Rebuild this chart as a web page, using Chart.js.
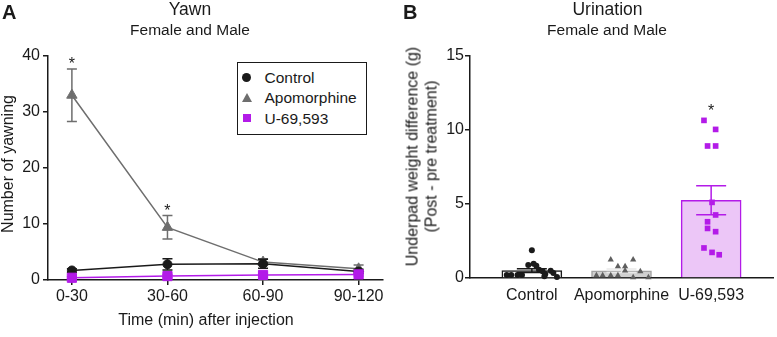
<!DOCTYPE html>
<html>
<head>
<meta charset="utf-8">
<title>Yawn / Urination</title>
<script src="https://cdn.jsdelivr.net/npm/chart.js@4.4.1/dist/chart.umd.min.js"></script>
<style>
  body { margin: 0; background: #fff; }
  #wrap { position: relative; width: 777px; height: 337px; overflow: hidden;
          font-family: "Liberation Sans", Arial, sans-serif; color: #1a1a1a; }
  canvas { position: absolute; top: 0; }
  .t { position: absolute; white-space: nowrap; text-align: center; }
  .panel { font-weight: bold; font-size: 20px; line-height: 20px; text-align: left; }
  .title { font-size: 17.5px; line-height: 17.5px; width: 300px; }
  .sub { font-size: 15.5px; line-height: 15.5px; width: 300px; }
  .axis { font-size: 16px; line-height: 16px; }
  .rot { transform: rotate(-90deg); }
  #legend { position: absolute; left: 237px; top: 62px; width: 130px; height: 72.5px;
            box-sizing: border-box; border: 1.5px solid #1a1a1a; background: #fff; }
  #legend .mk { position: absolute; }
  #legend .lb { position: absolute; left: 26.5px; font-size: 15.5px; line-height: 15.5px; white-space: nowrap; }
</style>
</head>
<body>
<div id="wrap">
  <canvas id="yawn" width="390" height="337" style="left:0"></canvas>
  <canvas id="urination" width="387" height="337" style="left:390px"></canvas>

  <div class="t panel" style="left:2px; top:2.4px">A</div>
  <div class="t title" style="left:40px; top:1.2px">Yawn</div>
  <div class="t sub" style="left:40px; top:21.9px">Female and Male</div>
  <div class="t axis" style="left:56px; width:300px; top:311.5px">Time (min) after injection</div>
  <div class="t axis rot" style="left:-92px; width:200px; top:155.5px">Number of yawning</div>

  <div id="legend">
    <div class="mk" style="left:4px; top:10px; width:9px; height:9px; border-radius:50%; background:#1a1a1a"></div>
    <div class="lb" style="top:7px">Control</div>
    <div class="mk" style="left:3.5px; top:30px; width:0; height:0; border-left:5px solid transparent; border-right:5px solid transparent; border-bottom:9px solid #6e6e6e"></div>
    <div class="lb" style="top:27px">Apomorphine</div>
    <div class="mk" style="left:4.5px; top:51px; width:8px; height:8px; background:#b31be8"></div>
    <div class="lb" style="top:47.5px">U-69,593</div>
  </div>

  <div class="t panel" style="left:403px; top:2.4px">B</div>
  <div class="t title" style="left:457.5px; top:1.2px">Urination</div>
  <div class="t sub" style="left:457px; top:21.9px">Female and Male</div>
  <div class="t axis rot" style="left:302px; width:240px; top:137.5px; line-height:18.5px">Underpad weight difference (g)<br>(Post - pre treatment)</div>
</div>

<script>
// Panel A: yawning per 30 min bin (mean, SEM)
const timeLabels = ['0-30', '30-60', '60-90', '90-120'];
const controlYawn = [1.7, 2.8, 2.9, 1.5];
const controlYawnSem = [0.3, 1.0, 0.8, 0.4];
const apoYawn = [33.0, 9.4, 3.2, 2.0];
const apoYawnSem = [4.7, 2.1, 0.6, 0.7];
const u69Yawn = [0.4, 0.7, 0.9, 1.0];
const u69YawnSem = [0.2, 0.3, 0.3, 0.3];
const apoYawnSig = ['*', '*', '', ''];

// Panel B: underpad weight difference (g)
const groups = ['Control', 'Apomorphine', 'U-69,593'];
const groupMeans = [0.5, 0.49, 5.25];
const groupSem = [0.13, 0.12, 0.98];
const groupSig = ['', '', '*'];
const controlPad = [1.88, 0.97, 0.88, 0.83, 0.56, 0.49, 0.45, 0.34, 0.27, 0.2, 0.2, 0.2, 0.2, 0.11, 0.07];
const controlJitter = [0, 0.02, -0.04, 0.05, 0.08, 0.21, 0.12, 0.24, 0.15, -0.28, -0.23, -0.16, -0.11, 0.14, 0.28];
const apoPad = [1.24, 1.24, 0.78, 0.78, 0.5, 0.45, 0.18, 0.18, 0.18, 0.18, 0.04, 0.04];
const apoJitter = [-0.12, 0.13, -0.04, 0.04, 0.04, 0.21, -0.28, -0.21, -0.12, -0.04, 0.13, 0.30];
const u69Pad = [10.65, 10.04, 8.92, 8.92, 5.11, 4.26, 3.80, 3.35, 3.13, 2.03, 1.73, 1.57];
const u69Jitter = [-0.08, 0.05, -0.04, 0.05, 0.01, 0.05, -0.04, -0.04, 0.05, -0.08, 0.01, 0.09];

const BLACK = '#1a1a1a';
const GRAY = '#6e6e6e';
const PURPLE = '#b31be8';
const font = { family: '"Liberation Sans", Arial, sans-serif', size: 16 };

// mean +/- SEM, drawn right after its own dataset
const errorBars = {
  id: 'errorBars',
  afterDatasetDraw(chart, args) {
    const ds = chart.data.datasets[args.index];
    if (!ds.sem) return;
    const { ctx, scales: { y } } = chart;
    ctx.save();
    ctx.lineWidth = 1.5;
    args.meta.data.forEach((el, i) => {
      const v = ds.data[i];
      const mean = typeof v === 'object' ? v.y : v;
      const top = y.getPixelForValue(mean + ds.sem[i]);
      const bot = y.getPixelForValue(mean - ds.sem[i]);
      const c = ds.errorColor || ds.borderColor;
      ctx.strokeStyle = Array.isArray(c) ? c[i] : c;
      ctx.beginPath();
      ctx.moveTo(el.x, top); ctx.lineTo(el.x, bot);
      ctx.moveTo(el.x - ds.capHalf, top); ctx.lineTo(el.x + ds.capHalf, top);
      ctx.moveTo(el.x - ds.capHalf, bot); ctx.lineTo(el.x + ds.capHalf, bot);
      ctx.stroke();
    });
    ctx.restore();
  }
};

// significance asterisks
const sigMarks = {
  id: 'sigMarks',
  afterDatasetsDraw(chart, args, opts) {
    const { ctx, scales: { x, y } } = chart;
    ctx.save();
    ctx.font = '16px "Liberation Sans", Arial, sans-serif';
    ctx.fillStyle = BLACK;
    ctx.textAlign = 'center';
    opts.marks.forEach(([label, xv, yv]) => {
      if (!label) return;
      ctx.fillText(label, x.getPixelForValue(xv), y.getPixelForValue(yv) + opts.gap);
    });
    ctx.restore();
  }
};

const toXY = vals => vals.map((v, i) => ({ x: i, y: v }));
const axisLine = { color: BLACK, width: 1.5 };

new Chart(document.getElementById('yawn'), {
  type: 'line',
  plugins: [errorBars, sigMarks],
  data: {
    datasets: [
      { label: 'Control', data: toXY(controlYawn), sem: controlYawnSem, borderColor: BLACK, backgroundColor: BLACK,
        pointStyle: 'circle', pointRadius: 4.5, order: 1 },
      { label: 'Apomorphine', data: toXY(apoYawn), sem: apoYawnSem, borderColor: GRAY, backgroundColor: GRAY,
        pointStyle: 'triangle', pointRadius: 6, order: 2 },
      { label: 'U-69,593', data: toXY(u69Yawn), sem: u69YawnSem, borderColor: PURPLE, backgroundColor: PURPLE,
        pointStyle: 'rect', pointRadius: 6.5, order: 0 }
    ].map(d => Object.assign(d, { borderWidth: 1.5, pointBorderWidth: 1, tension: 0, clip: false, capHalf: 5 }))
  },
  options: {
    responsive: false,
    animation: false,
    events: [],
    layout: { padding: { top: 56, right: 4, left: 0, bottom: 0 } },
    plugins: {
      legend: { display: false },
      tooltip: { enabled: false },
      sigMarks: { marks: apoYawnSig.map((s, i) => [s, i, apoYawn[i] + apoYawnSem[i]]), gap: 0 }
    },
    scales: {
      x: {
        type: 'linear', min: -0.25, max: 3.25, offset: false,
        afterBuildTicks: s => { s.ticks = timeLabels.map((_, i) => ({ value: i })); },
        afterFit: s => { s.height = 57; },
        ticks: { callback: v => timeLabels[v], font, color: BLACK, padding: 2, maxRotation: 0, autoSkip: false },
        grid: { drawOnChartArea: false, tickLength: 5, color: BLACK, lineWidth: 1.5 },
        border: axisLine
      },
      y: {
        min: 0, max: 40,
        afterFit: s => { s.width = 48; },
        ticks: { stepSize: 10, font, color: BLACK, padding: 3 },
        grid: { drawOnChartArea: false, tickLength: 5, color: BLACK, lineWidth: 1.5 },
        border: axisLine
      }
    }
  }
});

const scatterSet = (label, vals, jitter, gi, style, radius, color) => ({
  type: 'scatter', label, order: 1, clip: false,
  data: vals.map((v, i) => ({ x: gi + jitter[i], y: v })),
  pointStyle: style, pointRadius: radius, pointBorderWidth: 0,
  backgroundColor: color, borderColor: color
});

new Chart(document.getElementById('urination'), {
  type: 'bar',
  plugins: [errorBars, sigMarks],
  data: {
    datasets: [
      { label: 'mean', order: 2, data: toXY(groupMeans), sem: groupSem, capHalf: 15,
        barThickness: 60, borderWidth: 1.5, borderSkipped: 'start',
        backgroundColor: ['#ffffff', '#d0d0d0', '#ecc6f7'],
        borderColor: [BLACK, '#a3a3a3', PURPLE],
        errorColor: [BLACK, '#e9e9e9', PURPLE] },
      scatterSet('Control', controlPad, controlJitter, 0, 'circle', 3, BLACK),
      scatterSet('Apomorphine', apoPad, apoJitter, 1, 'triangle', 3.6, '#5f5f5f'),
      scatterSet('U-69,593', u69Pad, u69Jitter, 2, 'rect', 4, PURPLE)
    ]
  },
  options: {
    responsive: false,
    animation: false,
    events: [],
    layout: { padding: { top: 56, right: 0, left: 0, bottom: 0 } },
    plugins: {
      legend: { display: false },
      tooltip: { enabled: false },
      sigMarks: {
        marks: groupSig.map((s, i) => [s, i, Math.max(...[controlPad, apoPad, u69Pad][i])]),
        gap: -4
      }
    },
    scales: {
      x: {
        type: 'linear', min: -0.69, max: 2.69, offset: false,
        afterBuildTicks: s => { s.ticks = groups.map((_, i) => ({ value: i })); },
        afterFit: s => { s.height = 59; },
        ticks: { callback: v => groups[v], font, color: BLACK, padding: 8, maxRotation: 0, autoSkip: false },
        grid: { display: false, drawTicks: false, offset: false },
        border: axisLine
      },
      y: {
        min: 0, max: 15,
        afterFit: s => { s.width = 80; },
        ticks: { stepSize: 5, font, color: BLACK, padding: 1 },
        grid: { drawOnChartArea: false, tickLength: 5, color: BLACK, lineWidth: 1.5 },
        border: axisLine
      }
    }
  }
});
</script>
</body>
</html>
